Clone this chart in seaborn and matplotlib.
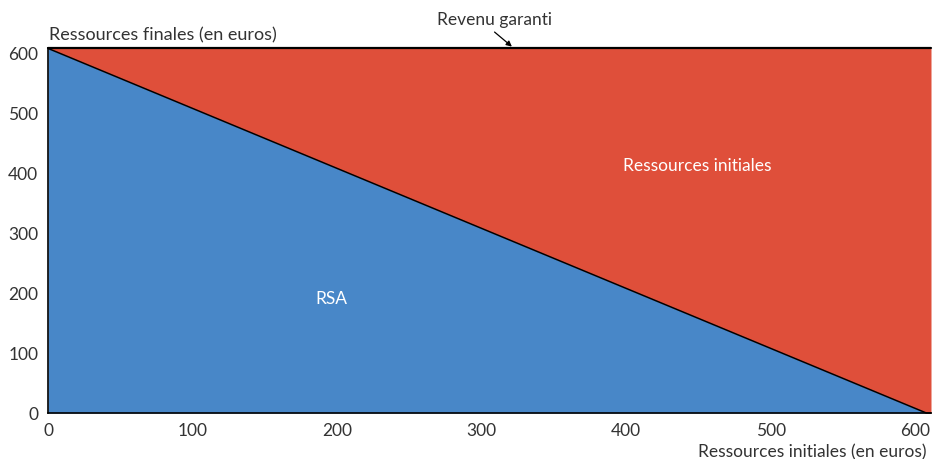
import numpy as np
import pandas as pd
import matplotlib
matplotlib.use("Agg")
import matplotlib.pyplot as plt
import seaborn as sns

# Data
revenu_garanti = 607.75
ressources_initiales = [0, 607.75, 611]
rsa = [607.75, 0, 0]
x_ticks = [0, 100, 200, 300, 400, 500, 600]
y_ticks = [0, 100, 200, 300, 400, 500, 600]

BLUE = "#4887c8"
RED = "#df4f3a"
TXT = "#333333"
FS = 12.5

sns.set_style("white")
plt.rcParams["font.family"] = ["Lato", "DejaVu Sans"]

fig = plt.figure(figsize=(9.39, 4.59), dpi=100)
ax = fig.add_axes([48/939, (459-413)/459, (931-48)/939, (413-48.4)/459])

df = pd.DataFrame({"x": ressources_initiales, "rsa": rsa,
                   "final": [revenu_garanti] * len(rsa)})

ax.fill_between(df["x"], 0, df["rsa"], color=BLUE, linewidth=0)
ax.fill_between(df["x"], df["rsa"], df["final"], color=RED, linewidth=0)
sns.lineplot(data=df, x="x", y="rsa", ax=ax, color="black", linewidth=1.1)
sns.lineplot(data=df, x="x", y="final", ax=ax, color="black", linewidth=1.6)

ax.set_xlim(0, 611)
ax.set_ylim(0, revenu_garanti)
ax.set_xticks(x_ticks)
ax.set_yticks(y_ticks)
ax.set_xlabel("")
ax.set_ylabel("")
for s in ["top", "right"]:
    ax.spines[s].set_visible(False)
for s in ["left", "bottom"]:
    ax.spines[s].set_color("black")
    ax.spines[s].set_linewidth(1.2)
ax.tick_params(axis="both", direction="out", length=5, width=1, color="black",
               labelsize=FS, labelcolor=TXT, pad=2)
for line in ax.get_lines():
    line.set_clip_on(False)

fig.text(49/939, 1 - 35/459, "Ressources finales (en euros)", fontsize=FS + 0.5,
         color=TXT, ha="left", va="center")
fig.text(926/939, 1 - 452/459, "Ressources initiales (en euros)", fontsize=FS,
         color=TXT, ha="right", va="center")

ax.text(449, 412, "Ressources initiales", color="white", fontsize=FS,
        ha="center", va="center")
ax.text(196, 190, "RSA", color="white", fontsize=FS, ha="center", va="center")

fig.text(495/939, 1 - 20/459, "Revenu garanti", fontsize=FS, color=TXT,
         ha="center", va="center")
ax.annotate("", xy=(321, revenu_garanti + 3), xycoords="data",
            xytext=(309, 635), textcoords="data",
            annotation_clip=False,
            arrowprops=dict(arrowstyle="-|>", color="black", lw=0.9,
                            shrinkA=0, shrinkB=0, mutation_scale=8))

fig.savefig("out.png", dpi=100)
